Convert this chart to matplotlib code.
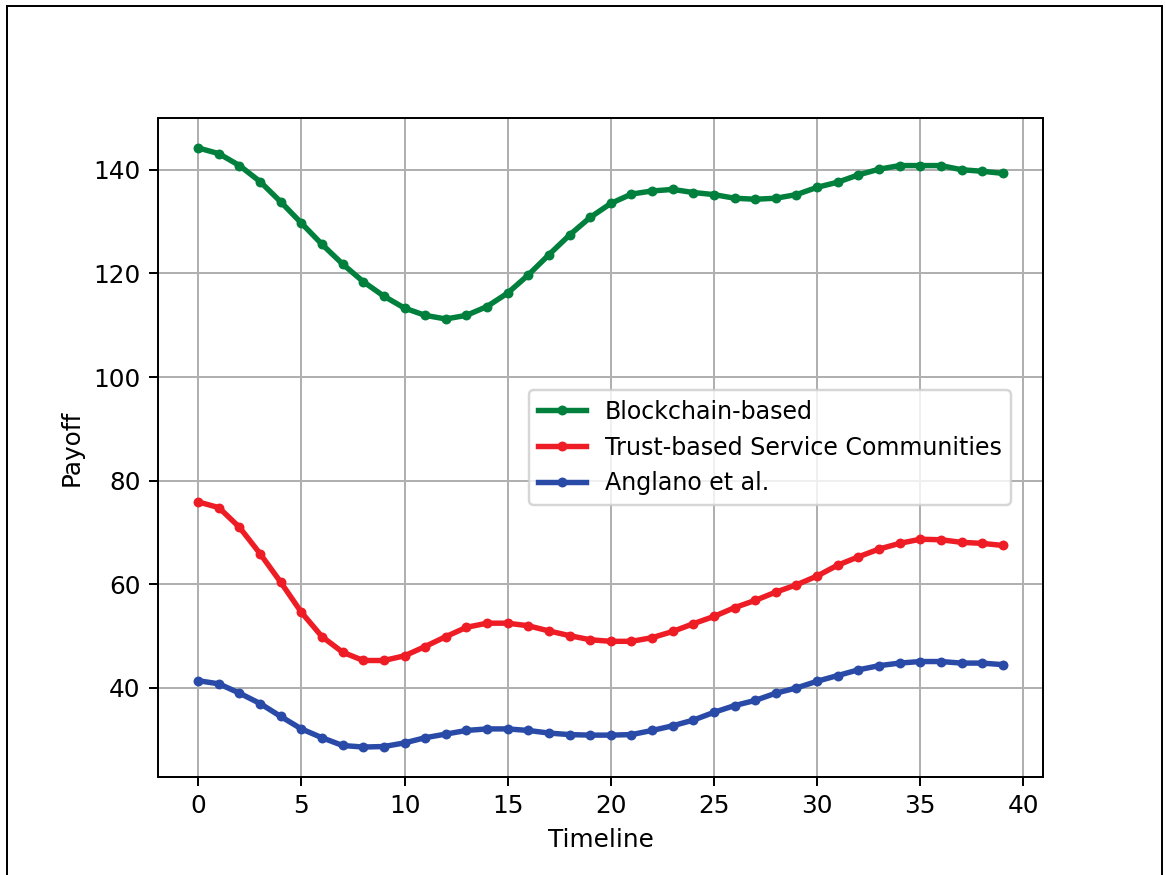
import matplotlib
matplotlib.use("Agg")
import matplotlib.pyplot as plt
from matplotlib.lines import Line2D

timeline = list(range(40))

blockchain = [144.2, 143.1, 140.8, 137.7, 133.8, 129.7, 125.6, 121.8, 118.4, 115.6,
              113.3, 111.9, 111.2, 111.9, 113.6, 116.2, 119.7, 123.6, 127.4, 130.8,
              133.5, 135.3, 135.9, 136.2, 135.6, 135.2, 134.5, 134.3, 134.5, 135.2,
              136.6, 137.6, 139.0, 140.1, 140.8, 140.8, 140.8, 140.0, 139.7, 139.3]

trust = [75.9, 74.8, 71.0, 65.9, 60.4, 54.6, 49.9, 46.9, 45.3, 45.3,
         46.2, 48.0, 49.9, 51.7, 52.5, 52.5, 52.0, 51.0, 50.1, 49.3,
         49.0, 49.0, 49.7, 50.9, 52.4, 53.8, 55.5, 56.9, 58.5, 59.9,
         61.6, 63.7, 65.3, 66.8, 67.9, 68.7, 68.6, 68.1, 67.9, 67.5]

anglano = [41.4, 40.8, 39.0, 37.0, 34.5, 32.1, 30.4, 28.9, 28.6, 28.7,
           29.4, 30.4, 31.1, 31.8, 32.1, 32.1, 31.8, 31.3, 31.0, 30.9,
           30.9, 31.0, 31.8, 32.7, 33.8, 35.3, 36.6, 37.6, 39.0, 40.0,
           41.3, 42.4, 43.5, 44.3, 44.8, 45.1, 45.1, 44.8, 44.8, 44.5]

labels = ["Blockchain-based", "Trust-based Service Communities", "Anglano et al."]
colors = ["#00803c", "#ee1c25", "#2a4aa8"]

fig = plt.figure(figsize=(1166 / 178, 875 / 178), dpi=178)
ax = fig.add_axes([158 / 1166, 1 - 777 / 875, (1043 - 158) / 1166, (777 - 118) / 875])

for series, lab, col in zip([blockchain, trust, anglano], labels, colors):
    ax.plot(timeline, series, marker="o", markersize=3.0, linewidth=2.2, color=col, label=lab)

ax.grid(True)
ax.set_xlabel("Timeline")
ax.set_ylabel("Payoff")
ax.legend(loc="center", bbox_to_anchor=(0.6915, 0.5), fontsize=9.6)

# thin frame around the figure (bottom edge cropped in the reference)
fr = dict(color="black", linewidth=0.8, transform=fig.transFigure)
x0, x1 = 6.5 / 1166, 1161.5 / 1166
ytop = 1 - 6.5 / 875
fig.add_artist(Line2D([x0, x0], [0, ytop], **fr))
fig.add_artist(Line2D([x1, x1], [0, ytop], **fr))
fig.add_artist(Line2D([x0, x1], [ytop, ytop], **fr))

fig.savefig("out.png", dpi=178)
